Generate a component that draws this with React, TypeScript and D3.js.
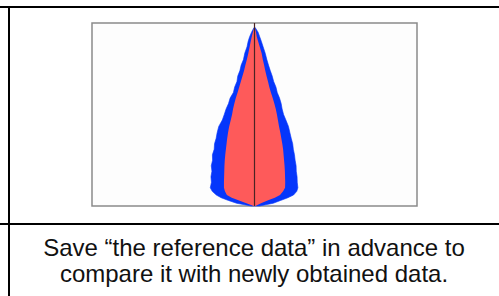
import React, { useEffect, useRef } from 'react';
import * as d3 from 'd3';

// depth levels (0 = top of box, 100 = bottom) and the horizontal spread of each band
const depth = [0, 2.5, 5, 7.5, 10, 13, 16.5, 20, 23, 26, 29, 32, 35, 38, 41, 44, 47, 50, 53, 56.5, 60, 63, 66, 69, 72, 75, 78, 81, 84, 87, 90, 92, 94, 95.5, 97, 98.5, 100];
const blueLeft = [0, -0.3, -1.8, -3.0, -3.9, -4.6, -6.0, -6.8, -8.2, -9.0, -10.3, -10.8, -12.2, -13.0, -15.0, -16.0, -17.5, -18.6, -19.8, -22.0, -23.0, -23.6, -24.6, -24.8, -25.9, -25.8, -26.6, -26.2, -26.8, -26.5, -27.2, -26.0, -23.5, -20.5, -16.0, -11.0, -2.0];
const redLeft = [0, -0.2, -1.0, -1.7, -2.3, -3.0, -3.8, -4.7, -5.6, -6.4, -7.4, -8.4, -9.4, -10.4, -11.5, -12.4, -13.2, -13.8, -14.6, -15.6, -16.3, -16.8, -17.2, -17.6, -18.0, -18.3, -18.5, -18.6, -18.7, -18.8, -18.8, -18.2, -17.0, -14.0, -9.5, -5.0, -0.5];
const redRight = [0, 0.2, 0.9, 1.4, 2.2, 3.2, 4.4, 5.1, 5.9, 6.6, 7.4, 8.3, 9.1, 10.1, 11.2, 12.2, 13.1, 13.8, 14.4, 15.1, 15.9, 16.5, 17.1, 17.6, 17.9, 18.2, 18.5, 18.7, 18.8, 18.9, 18.8, 17.6, 15.7, 12.5, 8.0, 4.0, 0.5];
const blueRight = [0, 0.4, 2.2, 3.2, 4.2, 5.3, 6.6, 7.6, 8.6, 9.7, 10.9, 11.8, 13.2, 14.0, 15.4, 16.4, 17.0, 17.9, 19.3, 20.9, 21.8, 22.6, 23.5, 23.9, 24.6, 25.0, 25.6, 25.7, 26.2, 26.3, 26.7, 26.0, 24.0, 20.5, 16.0, 11.5, 3.0];
const tipDepth = 2.5;

const captionLines = ['Save \u201cthe reference data\u201d in advance to', 'compare it with newly obtained data.'];

const W = 499,
  H = 296;

export default function App() {
  useEffect(() => {
    document.body.style.margin = '0';
  }, []);

  const box = { left: 92, right: 417, top: 23, bottom: 206 };
  const x = d3.scaleLinear().domain([-100, 100]).range([box.left, box.right]);
  const y = d3.scaleLinear().domain([0, 100]).range([box.top, box.bottom]);

  const rows = depth.map((d, i) => ({ d, bl: blueLeft[i], rl: redLeft[i], rr: redRight[i], br: blueRight[i] }));
  const band = (lo, hi) =>
    d3
      .area()
      .x0(r => x(r[lo]))
      .x1(r => x(r[hi]))
      .y(r => y(r.d))
      .curve(d3.curveLinear);
  const visible = rows.filter(r => r.d >= tipDepth);
  // outer (blue) drawn first, inner (red) over it
  const bluePath = band('bl', 'br')(visible);
  const redPath = band('rl', 'rr')(visible);

  return (
    <svg width={W} height={H} style={{ display: 'block' }}>
      <rect x={0} y={0} width={W} height={H} fill="#ffffff" />
      {/* table rules */}
      <line x1={0} x2={W} y1={7} y2={7} stroke="#000" strokeWidth={2} />
      <line x1={0} x2={W} y1={224} y2={224} stroke="#000" strokeWidth={2} />
      <line x1={9} x2={9} y1={6} y2={H} stroke="#000" strokeWidth={2} />

      {/* chart */}
      <rect
        x={box.left}
        y={box.top}
        width={box.right - box.left}
        height={box.bottom - box.top}
        fill="#fdfdfd"
        stroke="#8a8a8a"
        strokeWidth={1.5}
      />
      <path d={bluePath} fill="#0536fb" stroke="#0536fb" strokeWidth={0.6} />
      <path d={redPath} fill="#fe5a5a" />
      <line x1={x(0)} x2={x(0)} y1={box.top} y2={box.bottom} stroke="#4a2424" strokeWidth={1.2} />

      {/* caption */}
      <g style={{ fontFamily: 'Liberation Sans, Arial, sans-serif', fontSize: 24, fill: '#111' }}>
        {captionLines.map((t, i) => (
          <text key={i} x={254} y={255.5 + i * 26.7} textAnchor="middle">
            {t}
          </text>
        ))}
      </g>
    </svg>
  );
}
